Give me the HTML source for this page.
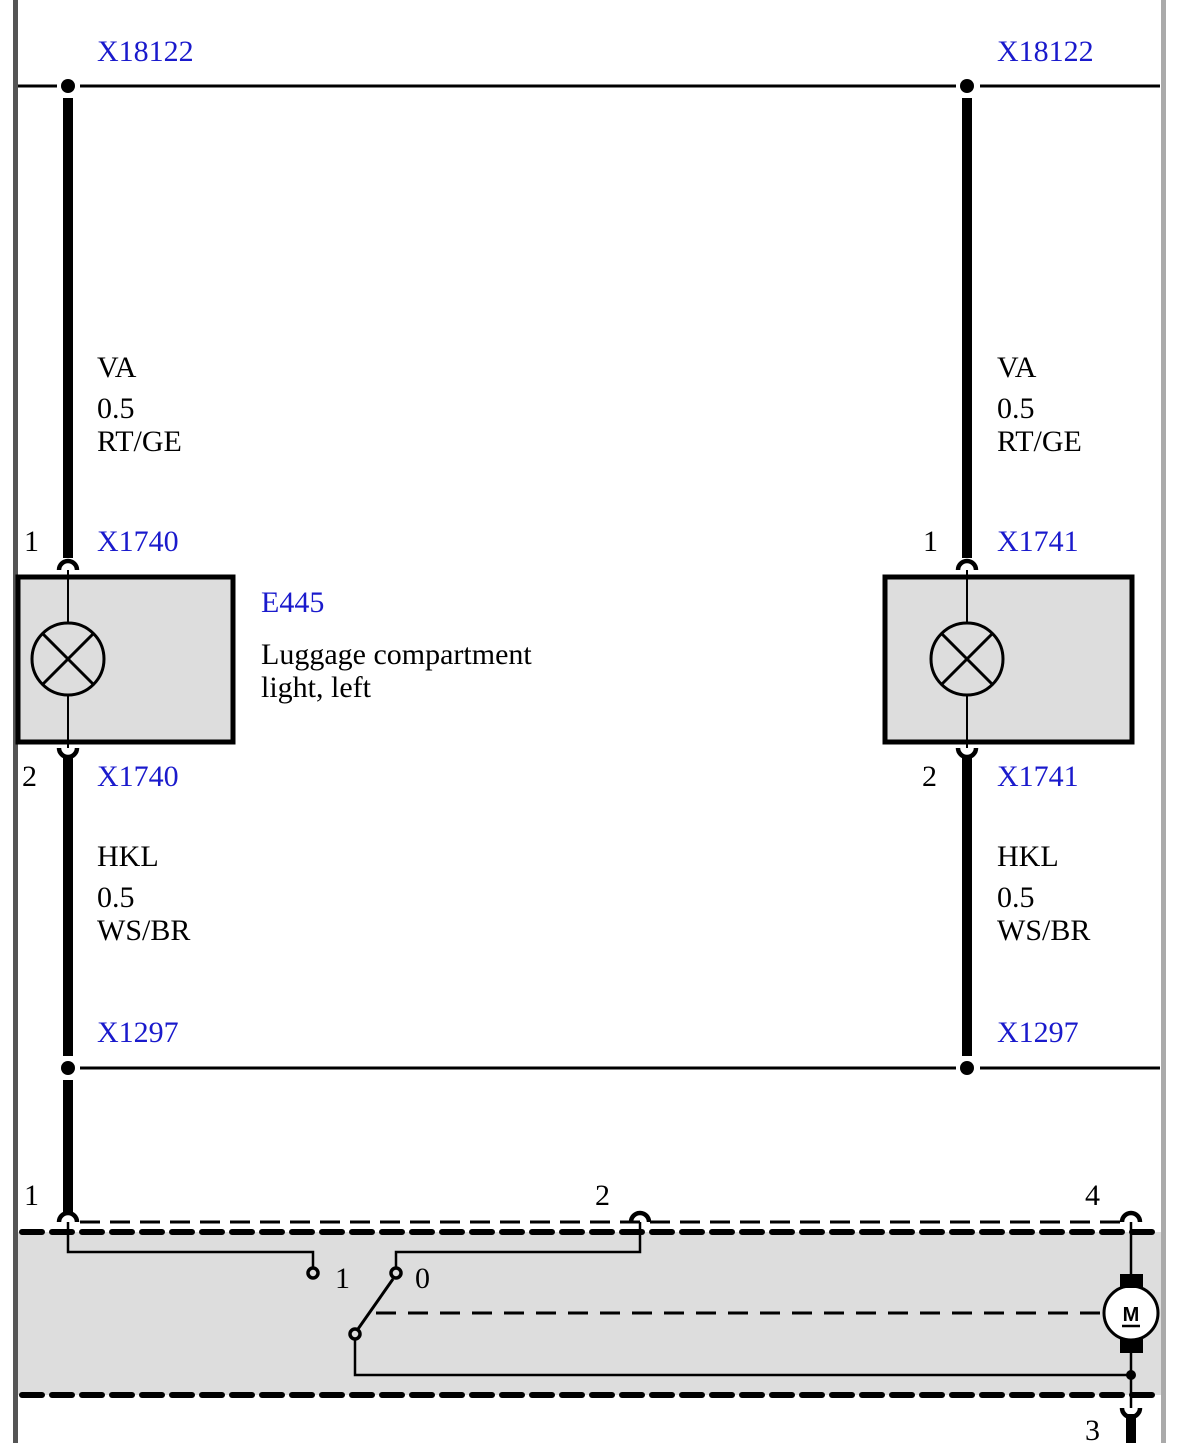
<!DOCTYPE html>
<html><head><meta charset="utf-8"><style>
html,body{margin:0;padding:0;background:#fff;}
svg{display:block;}
text{font-family:"Liberation Serif",serif;font-size:30px;}
.b{fill:#1a1acc;}
</style></head><body>
<svg width="1179" height="1443" viewBox="0 0 1179 1443" xmlns="http://www.w3.org/2000/svg">
<rect x="18" y="1232" width="1143" height="163" fill="#dddddd"/>
<rect x="13" y="0" width="5" height="1443" fill="#555"/>
<rect x="1161" y="0" width="5" height="1443" fill="#aaa"/>
<line x1="18" y1="86" x2="57" y2="86" stroke="#000" stroke-width="3"/>
<line x1="80" y1="86" x2="956" y2="86" stroke="#000" stroke-width="3"/>
<line x1="980" y1="86" x2="1160" y2="86" stroke="#000" stroke-width="3"/>
<circle cx="68" cy="86" r="7"/><circle cx="967" cy="86" r="7"/>
<line x1="80" y1="1068" x2="956" y2="1068" stroke="#000" stroke-width="3"/>
<line x1="980" y1="1068" x2="1160" y2="1068" stroke="#000" stroke-width="3"/>
<circle cx="68" cy="1068" r="7"/><circle cx="967" cy="1068" r="7"/>
<g stroke="#000" stroke-width="10" fill="none">
<line x1="68" y1="98" x2="68" y2="558"/>
<line x1="967" y1="98" x2="967" y2="558"/>
<line x1="68" y1="757" x2="68" y2="1056"/>
<line x1="967" y1="757" x2="967" y2="1056"/>
<line x1="68" y1="1080" x2="68" y2="1212"/>
<line x1="1131" y1="1414" x2="1131" y2="1443"/>
</g>
<rect x="18" y="577" width="215" height="165" fill="#ddd" stroke="#000" stroke-width="5"/>
<rect x="885" y="577" width="247" height="165" fill="#ddd" stroke="#000" stroke-width="5"/>
<g stroke="#000" stroke-width="4.5" fill="none">
<path d="M59 570 A9 9 0 0 1 77 570"/><path d="M958 570 A9 9 0 0 1 976 570"/>
<path d="M59 748 A9 9 0 0 0 77 748"/><path d="M958 748 A9 9 0 0 0 976 748"/>
</g>
<g stroke="#000" stroke-width="3" fill="none">
<line x1="68" y1="570" x2="68" y2="748" stroke-width="2"/>
<line x1="967" y1="570" x2="967" y2="748" stroke-width="2"/>
<circle cx="68" cy="659" r="36" fill="#ddd"/>
<line x1="43" y1="634" x2="93" y2="684"/><line x1="93" y1="634" x2="43" y2="684"/>
<circle cx="967" cy="659" r="36" fill="#ddd"/>
<line x1="942" y1="634" x2="992" y2="684"/><line x1="992" y1="634" x2="942" y2="684"/>
</g>
<g stroke="#000" fill="none">
<line x1="22" y1="1232" x2="1160" y2="1232" stroke-width="6" stroke-dasharray="20,10" stroke-linecap="round"/>
<line x1="22" y1="1395" x2="1160" y2="1395" stroke-width="6" stroke-dasharray="20,10" stroke-linecap="round"/>
<line x1="80" y1="1222" x2="1120" y2="1222" stroke-width="3" stroke-dasharray="20,10"/>
<path d="M59 1222 A9 9 0 0 1 77 1222" stroke-width="4.5"/>
<path d="M631 1222 A9 9 0 0 1 649 1222" stroke-width="4.5"/>
<path d="M1122 1222 A9 9 0 0 1 1140 1222" stroke-width="4.5"/>
<path d="M1122 1408 A9 9 0 0 0 1140 1408" stroke-width="4.5"/>
<polyline points="68,1222 68,1252 313,1252 313,1268" stroke-width="2.5"/>
<polyline points="640,1222 640,1252 396,1252 396,1268" stroke-width="2.5"/>
<circle cx="313" cy="1273" r="5" stroke-width="3.5" fill="#ddd"/>
<circle cx="396" cy="1273" r="5" stroke-width="3.5" fill="#ddd"/>
<circle cx="355" cy="1334" r="5" stroke-width="3.5" fill="#ddd"/>
<line x1="393" y1="1279" x2="358" y2="1329" stroke-width="3"/>
<line x1="376" y1="1313" x2="1104" y2="1313" stroke-width="3" stroke-dasharray="20,12"/>
<polyline points="355,1339 355,1375 1131,1375" stroke-width="2.5"/>
<line x1="1131" y1="1222" x2="1131" y2="1408" stroke-width="2.5"/>
<circle cx="1131" cy="1313" r="27" stroke-width="3" fill="#fff"/>
</g>
<rect x="1120" y="1274" width="23" height="14"/>
<rect x="1120" y="1339" width="23" height="14"/>
<circle cx="1131" cy="1375" r="5"/>
<text x="1131" y="1321" text-anchor="middle" style="font-family:'Liberation Sans',sans-serif;font-size:20px;font-weight:bold">M</text>
<line x1="1122" y1="1326" x2="1140" y2="1326" stroke="#000" stroke-width="2.5"/>
<text class="b" x="97" y="61">X18122</text>
<text class="b" x="997" y="61">X18122</text>
<text x="97" y="377">VA</text><text x="97" y="418">0.5</text><text x="97" y="451">RT/GE</text>
<text x="997" y="377">VA</text><text x="997" y="418">0.5</text><text x="997" y="451">RT/GE</text>
<text x="24" y="551">1</text><text class="b" x="97" y="551">X1740</text>
<text x="923" y="551">1</text><text class="b" x="997" y="551">X1741</text>
<text class="b" x="261" y="612">E445</text>
<text x="261" y="664">Luggage compartment</text>
<text x="261" y="697">light, left</text>
<text x="22" y="786">2</text><text class="b" x="97" y="786">X1740</text>
<text x="922" y="786">2</text><text class="b" x="997" y="786">X1741</text>
<text x="97" y="866">HKL</text><text x="97" y="907">0.5</text><text x="97" y="940">WS/BR</text>
<text x="997" y="866">HKL</text><text x="997" y="907">0.5</text><text x="997" y="940">WS/BR</text>
<text class="b" x="97" y="1042">X1297</text>
<text class="b" x="997" y="1042">X1297</text>
<text x="24" y="1205">1</text>
<text x="595" y="1205">2</text>
<text x="1085" y="1205">4</text>
<text x="335" y="1288">1</text>
<text x="415" y="1288">0</text>
<text x="1085" y="1440">3</text>
</svg>
</body></html>
